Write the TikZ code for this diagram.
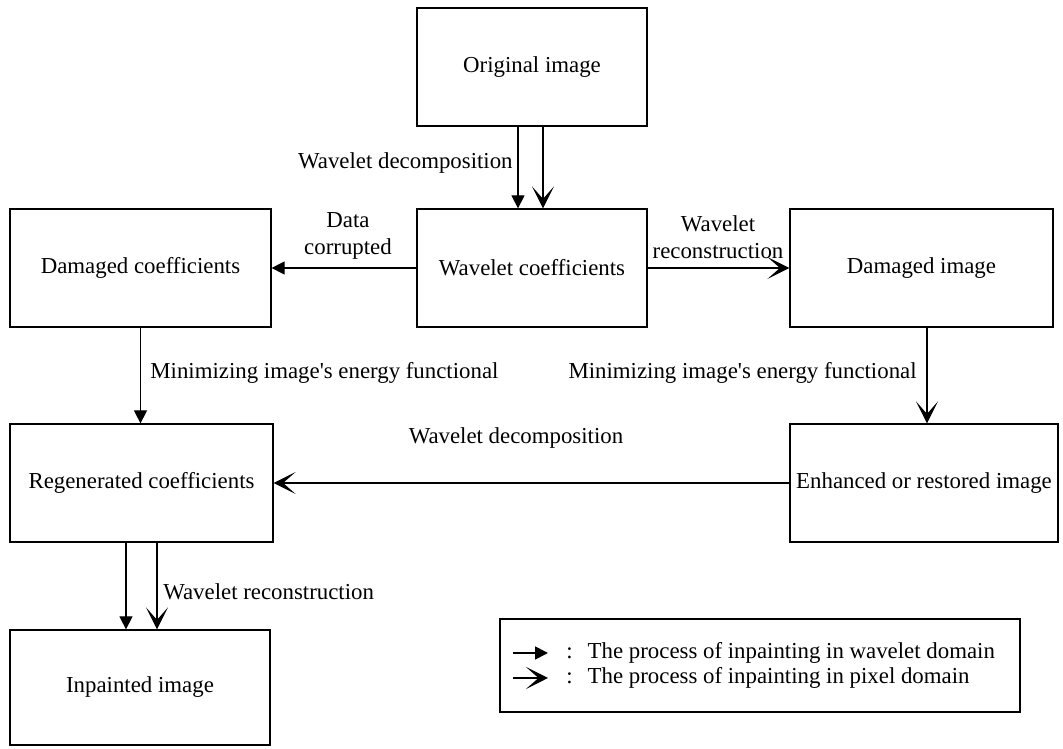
\documentclass[tikz,border=0pt]{standalone}
\usepackage{fontspec}
\setmainfont{Liberation Serif}
\usetikzlibrary{arrows.meta}

\begin{document}
\begin{tikzpicture}[
    x=0.02cm, y=-0.02cm,
    font=\fontsize{13}{15.5}\selectfont,
    box/.style={draw, line width=0.7pt, minimum width=#1, minimum height=2.36cm, inner sep=0pt},
    wave/.style={-{Triangle[length=2.6mm,width=2.6mm]}, line width=0.6pt},
    pix/.style={-{Stealth[length=4.4mm,width=4.4mm,inset=2.5mm]}, line width=0.6pt},
    lbl/.style={inner sep=0pt, align=center}
]
    % Canvas of the picture
    \useasboundingbox (0,0) rectangle (1063,749);

    % Boxes
    \node[box=4.6cm] (orig) at (532,67) {Original image};
    \node[box=4.6cm] (wcoef) at (532,268) {Wavelet coefficients};
    \node[box=5.22cm] (dcoef) at (140.5,268) {Damaged coefficients};
    \node[box=5.26cm] (dimg) at (921.5,268) {Damaged image};
    \node[box=5.26cm] (rcoef) at (141.5,483) {Regenerated coefficients};
    \node[box=5.36cm] (eimg) at (924,483) {Enhanced or restored image};
    \node[box=5.2cm, minimum height=2.3cm] (inp) at (140,687.5) {Inpainted image};

    % Wavelet decomposition of the original image
    \draw[wave] (orig.south -| 518,0) -- (wcoef.north -| 518,0);
    \draw[pix] (orig.south -| 543,0) -- (wcoef.north -| 543,0);
    \node[lbl, anchor=east] (ldec) at (513,163) {Wavelet decomposition};

    % Data corrupted / wavelet reconstruction
    \draw[wave] (wcoef.west) -- (dcoef.east);
    \node[lbl] (lcorr) at (348,236) {Data\\corrupted};
    \draw[pix] (wcoef.east) -- (dimg.west);
    \node[lbl] (lrec) at (718,237) {Wavelet\\reconstruction};

    % Minimizing the energy functional
    \draw[wave] (dcoef.south) -- (dcoef.south |- rcoef.north);
    \node[lbl, anchor=west] (lminw) at (150,373) {Minimizing image\textquotesingle s energy functional};
    \draw[pix] (dimg.south -| 927,0) -- (eimg.north -| 927,0);
    \node[lbl, anchor=east] (lminp) at (917,373) {Minimizing image\textquotesingle s energy functional};

    % Back to the wavelet domain
    \draw[pix] (eimg.west) -- (rcoef.east);
    \node[lbl] (ldec2) at (516,438) {Wavelet decomposition};

    % Reconstruction of the inpainted image
    \draw[wave] (rcoef.south -| 126,0) -- (inp.north -| 126,0);
    \draw[pix] (rcoef.south -| 157,0) -- (inp.north -| 157,0);
    \node[lbl, anchor=west] (lrec2) at (163,592) {Wavelet reconstruction};

    % Legend
    \node[draw, line width=0.7pt, minimum width=10.4cm, minimum height=1.86cm] (legend) at (760,665.5) {};
    \coordinate (lw1) at (513,653);
    \coordinate (lw2) at (548,653);
    \coordinate (lp1) at (513,678);
    \coordinate (lp2) at (548,678);
    \draw[wave, line width=1pt] (lw1) -- (lw2);
    \draw[pix, line width=1.4pt] (lp1) -- (lp2);
    \node[lbl, anchor=west] (lwave) at (566,653) {:\hspace{0.3cm}The process of inpainting in wavelet domain};
    \node[lbl, anchor=west] (lpix) at (566,678) {:\hspace{0.3cm}The process of inpainting in pixel domain};
\end{tikzpicture}
\end{document}
